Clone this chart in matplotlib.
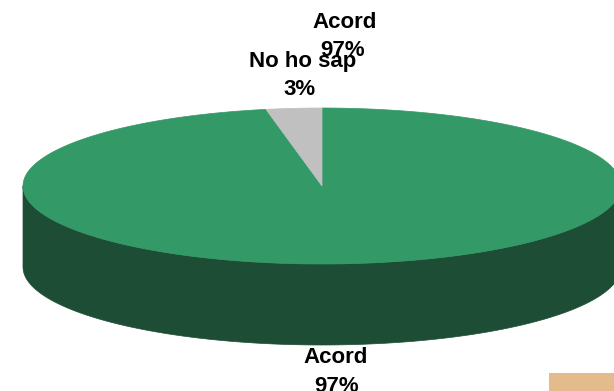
import numpy as np
import matplotlib
matplotlib.use("Agg")
import matplotlib.pyplot as plt
from matplotlib.patches import Polygon, Rectangle

# data
labels = ["Acord", "No ho sap"]
values = [97, 3]
top_colors = ["#339966", "#C0C0C0"]
side_colors = ["#1D4D34", "#8A8A8A"]

# pie geometry in pixels
cx, cy = 322, 186
rx, ry = 299, 78
depth = 81


def ell(a):
    a = np.radians(a)
    return cx + rx * np.cos(a), cy - ry * np.sin(a)


fig = plt.figure(figsize=(6.14, 3.91), dpi=100)
ax = fig.add_axes([0, 0, 1, 1])
ax.set_xlim(0, 614)
ax.set_ylim(391, 0)
ax.axis("off")

total = sum(values)
# slices go clockwise from 12 o'clock
start = 90.0
slices = []
for v in values:
    sweep = 360.0 * v / total
    slices.append((start - sweep, start))
    start -= sweep

# side walls (front half only: 180..360 deg)
for (a0, a1), col in zip(slices, side_colors):
    for k in range(-1, 2):
        lo = max(a0 + 360 * k, 180)
        hi = min(a1 + 360 * k, 360)
        if hi <= lo:
            continue
        t = np.linspace(lo, hi, 200)
        x, y = ell(t)
        pts = np.column_stack([np.r_[x, x[::-1]], np.r_[y, y[::-1] + depth]])
        ax.add_patch(Polygon(pts, closed=True, fc=col, ec=col, lw=0.5, zorder=1))

# top faces
for (a0, a1), col in zip(slices, top_colors):
    t = np.linspace(a0, a1, 400)
    x, y = ell(t)
    pts = np.column_stack([np.r_[cx, x], np.r_[cy, y]])
    ax.add_patch(Polygon(pts, closed=True, fc=col, ec=col, lw=0.5, zorder=2))

font = dict(family=["Liberation Sans", "DejaVu Sans"], fontsize=16,
            fontweight="bold", ha="center", va="baseline", color="black", zorder=5)

# data labels
ax.text(345, 28, labels[0], **font)
ax.text(343, 56, f"{values[0]}%", **font)
ax.text(303, 67, labels[1], **font)
ax.text(300, 95, f"{values[1]}%", **font)
ax.text(336, 363, labels[0], **font)
ax.text(337, 392, f"{values[0]}%", **font)

ax.add_patch(Rectangle((549, 373), 70, 25, fc="#E3BB8C", ec="none", zorder=3))

fig.savefig("out.png", dpi=100)
